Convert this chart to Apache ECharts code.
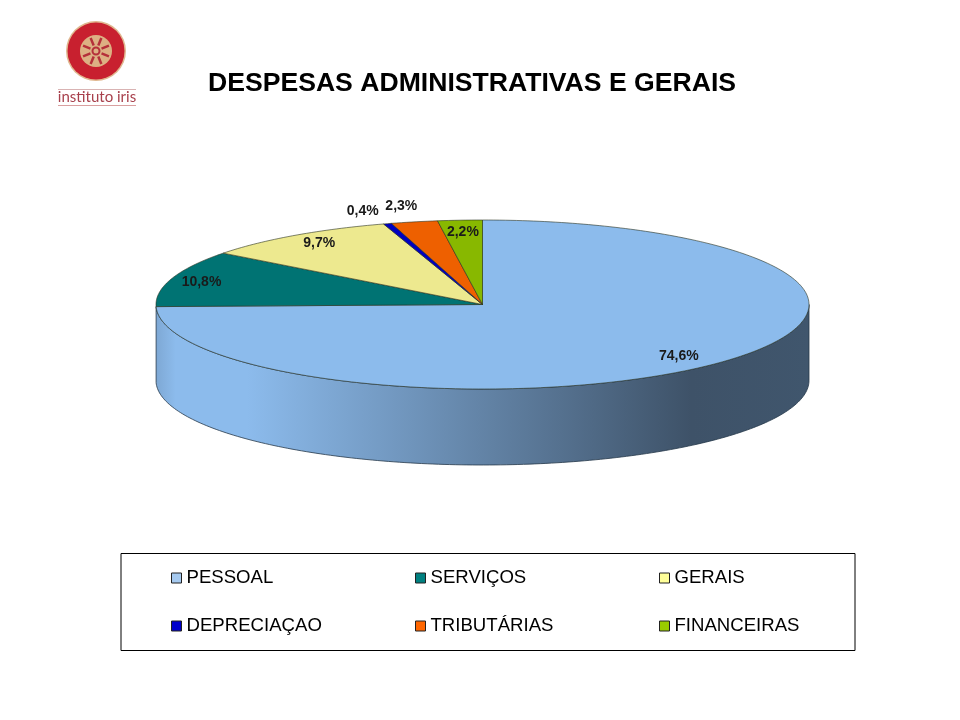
<!DOCTYPE html>
<html>
<head>
<meta charset="utf-8">
<style>html,body{margin:0;padding:0;background:#fff}#chart{width:960px;height:720px}</style>
<script src="https://cdn.jsdelivr.net/npm/echarts@6/dist/echarts.min.js"></script>
</head>
<body>
<div id="chart"></div>
<script>
// ---- data ----
const titleText = 'DESPESAS ADMINISTRATIVAS E GERAIS';
const categories = ['PESSOAL', 'SERVIÇOS', 'GERAIS', 'DEPRECIAÇAO', 'TRIBUTÁRIAS', 'FINANCEIRAS'];
const shares = [74.6, 10.8, 9.7, 0.4, 2.3, 2.2];

// ---- styling ----
const sliceColors = ['#8CBBEC', '#007373', '#EDE98F', '#0000C0', '#EE6000', '#88B800'];
const legendColors = ['#A6CAF0', '#008080', '#FFFF99', '#0000CC', '#FF6600', '#99CC00'];
const labelReach = [[0.84, 0.875], [0.905, 0.86], [0.87, 0.89], [1.26, 1.155], [1.19, 1.19], [0.87, 0.86]];
const pie = { cx: 482.5, cy: 304.5, rx: 326.5, ry: 84.5, depth: 76 };
const FONT = '"Liberation Sans", Arial, sans-serif';

const total = shares.reduce((a, b) => a + b, 0);
const rad = d => d * Math.PI / 180;
const topPt = a => [pie.cx + pie.rx * Math.sin(rad(a)), pie.cy - pie.ry * Math.cos(rad(a))];
const arcPts = (a0, a1, dy) => {
  const n = Math.max(2, Math.ceil(Math.abs(a1 - a0)));
  const out = [];
  for (let i = 0; i <= n; i++) {
    const p = topPt(a0 + (a1 - a0) * i / n);
    out.push([p[0], p[1] + dy]);
  }
  return out;
};
const shade = (hex, f) => {
  const n = parseInt(hex.slice(1), 16);
  return 'rgb(' + [n >> 16, (n >> 8) & 255, n & 255].map(c => Math.round(c * f)).join(',') + ')';
};
const wallFill = base => ({
  type: 'linear', x: pie.cx - pie.rx, y: 0, x2: pie.cx + pie.rx, y2: 0, global: true,
  colorStops: [
    { offset: 0, color: shade(base, 0.9) },
    { offset: 0.03, color: base },
    { offset: 0.14, color: base },
    { offset: 0.82, color: shade(base, 0.44) },
    { offset: 1, color: shade(base, 0.46) }
  ]
});

function renderSlice(params, api) {
  const i = params.seriesIndex;
  const start = api.value(1) / total * 360;
  const end = start + api.value(0) / total * 360;
  const mid = (start + end) / 2;
  const children = [];
  const wa = Math.max(start, 90), wb = Math.min(end, 270);
  if (wb - wa > 3) {
    children.push({
      type: 'polygon', z2: 1,
      shape: { points: arcPts(wa, wb, 0).concat(arcPts(wb, wa, pie.depth)) },
      style: { fill: wallFill(sliceColors[i]), stroke: '#26384a', lineWidth: 0.8 }
    });
  }
  children.push({
    type: 'polygon', z2: 2,
    shape: { points: [[pie.cx, pie.cy]].concat(arcPts(start, end, 0)) },
    style: { fill: sliceColors[i], stroke: '#2a3320', lineWidth: 0.6 }
  });
  children.push({
    type: 'text', z2: 3,
    x: pie.cx + pie.rx * labelReach[i][0] * Math.sin(rad(mid)),
    y: pie.cy - pie.ry * labelReach[i][1] * Math.cos(rad(mid)),
    style: {
      text: api.value(0).toFixed(1).replace('.', ',') + '%',
      font: 'bold 14px ' + FONT, fill: '#1a1a1a', align: 'center', verticalAlign: 'middle'
    }
  });
  return { type: 'group', children };
}

let running = 0;
const series = categories.map((name, i) => {
  const row = [shares[i], running];
  running += shares[i];
  return {
    type: 'custom', name, coordinateSystem: 'none', renderItem: renderSlice,
    itemStyle: { color: sliceColors[i] }, data: [row], silent: true, animation: false
  };
});

const legendColumn = (left, idx) => ({
  left, top: 567, orient: 'vertical', icon: 'rect', itemWidth: 10, itemHeight: 10, itemGap: 26,
  selectedMode: false, padding: 0,
  textStyle: { fontFamily: FONT, fontSize: 18.6, lineHeight: 22, color: '#000' },
  itemStyle: { borderColor: '#222', borderWidth: 1 },
  data: idx.map(k => ({ name: categories[k], itemStyle: { color: legendColors[k], borderColor: '#222', borderWidth: 1 } }))
});

// logo: emblem and wordmark
const logoCx = 96, logoCy = 51;
const logoParts = [
  { type: 'circle', shape: { cx: logoCx, cy: logoCy, r: 30 }, style: { fill: '#E0B890' } },
  { type: 'circle', shape: { cx: logoCx, cy: logoCy, r: 28.5 }, style: { fill: '#C8202F' } },
  { type: 'circle', shape: { cx: logoCx, cy: logoCy, r: 16 }, style: { fill: '#DDB083' } }
];
for (let k = 0; k < 8; k++) {
  const a = rad(k * 45 + 22.5);
  logoParts.push({
    type: 'line',
    shape: { x1: logoCx + 6 * Math.sin(a), y1: logoCy - 6 * Math.cos(a), x2: logoCx + 14 * Math.sin(a), y2: logoCy - 14 * Math.cos(a) },
    style: { stroke: '#B5303A', lineWidth: 2.5 }
  });
}
logoParts.push(
  { type: 'circle', shape: { cx: logoCx, cy: logoCy, r: 3.5 }, style: { fill: '#DDB083', stroke: '#B5303A', lineWidth: 2 } },
  { type: 'line', shape: { x1: 58, y1: 89.5, x2: 136, y2: 89.5 }, style: { stroke: '#D9B3B3', lineWidth: 1 } },
  { type: 'line', shape: { x1: 58, y1: 105.5, x2: 136, y2: 105.5 }, style: { stroke: '#D9A0A0', lineWidth: 1 } },
  { type: 'text', x: 97, y: 97.5, style: { text: 'instituto iris', font: '15px Lato, "Open Sans", sans-serif', fill: '#A8404C', align: 'center', verticalAlign: 'middle' } }
);

const chart = echarts.init(document.getElementById('chart'), null, { renderer: 'canvas' });
chart.setOption({
  backgroundColor: '#fff',
  animation: false,
  title: {
    text: titleText, left: 472, top: 84, textAlign: 'center', textVerticalAlign: 'middle', padding: 0,
    textStyle: { fontFamily: FONT, fontWeight: 'bold', fontSize: 26.6, color: '#000' }
  },
  legend: [legendColumn(171, [0, 3]), legendColumn(415, [1, 4]), legendColumn(659, [2, 5])],
  graphic: [
    { type: 'rect', z: -1, shape: { x: 121, y: 553.5, width: 734, height: 97 }, style: { fill: '#fff', stroke: '#000', lineWidth: 1 } },
    { type: 'group', children: logoParts }
  ],
  series
});
</script>
</body>
</html>
